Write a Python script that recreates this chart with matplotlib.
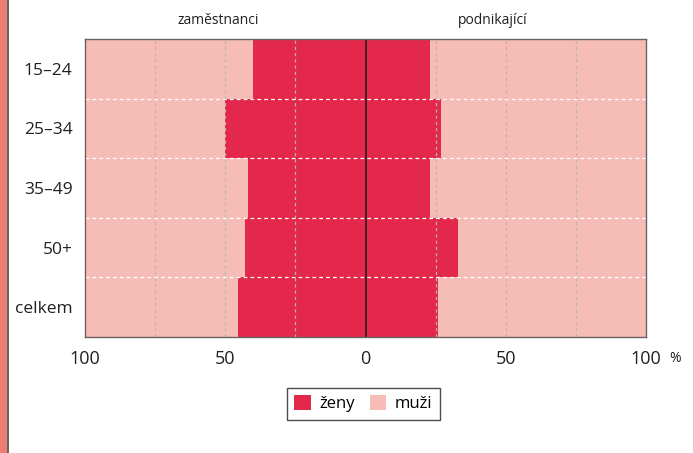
import matplotlib
matplotlib.use("Agg")
import matplotlib.pyplot as plt
from matplotlib.patches import Rectangle, Patch
from matplotlib.lines import Line2D

plt.rcParams['font.family'] = ['Open Sans', 'DejaVu Sans']

# data: share of women (%) in each group
groups = ["15–24", "25–34", "35–49", "50+", "celkem"]
zeny_zam = [40, 50, 42, 43, 45.5]     # zaměstnanci
zeny_pod = [23, 27, 23, 33, 26]       # podnikající
muzi_zam = [100 - v for v in zeny_zam]
muzi_pod = [100 - v for v in zeny_pod]

RED = "#E3284B"
PINK = "#F6BDB6"

fig = plt.figure(figsize=(6.93, 4.53), dpi=100)
ax = fig.add_axes([0.1227, 0.256, 0.8095, 0.658])

y = list(range(len(groups)))
# left half (zaměstnanci) - negative direction
ax.barh(y, [-v for v in zeny_zam], height=1.0, color=RED, zorder=1)
ax.barh(y, [-v for v in muzi_zam], left=[-v for v in zeny_zam], height=1.0, color=PINK, zorder=1)
# right half (podnikající)
ax.barh(y, zeny_pod, height=1.0, color=RED, zorder=1)
ax.barh(y, muzi_pod, left=zeny_pod, height=1.0, color=PINK, zorder=1)

ax.set_xlim(-100, 100)
ax.set_ylim(len(groups) - 0.5, -0.5)

# grid
for gx in [-75, -50, -25, 25, 50, 75]:
    ax.axvline(gx, color="#bdb3b3", lw=0.9, ls=(0, (2.5, 2.5)), zorder=2)
for gy in [0.5, 1.5, 2.5, 3.5]:
    ax.axhline(gy, color="white", lw=0.9, ls=(0, (3, 2.5)), zorder=3)
ax.axvline(0, color="#2a2022", lw=1.2, zorder=4)

for s in ax.spines.values():
    s.set_color("#6b6262")
    s.set_linewidth(1.0)
    s.set_zorder(5)

ax.set_xticks([-100, -50, 0, 50, 100])
ax.set_xticklabels(["100", "50", "0", "50", "100"])
ax.set_yticks(y)
ax.set_yticklabels(groups)
ax.tick_params(axis="x", length=0, pad=9, labelsize=13, labelcolor="#231f20")
ax.tick_params(axis="y", length=0, pad=9, labelsize=12.5, labelcolor="#231f20")
ax.text(1.041, -0.072, "%", transform=ax.transAxes, fontsize=10, color="#231f20",
        ha="left", va="center")

fig.text(218 / 693, 1 - 20 / 453, "zaměstnanci", ha="center", va="center", fontsize=10, color="#231f20")
fig.text(493 / 693, 1 - 20 / 453, "podnikající", ha="center", va="center", fontsize=10, color="#231f20")

handles = [Patch(facecolor=RED, edgecolor="none", label="ženy"),
           Patch(facecolor=PINK, edgecolor="none", label="muži")]
leg = fig.legend(handles=handles, loc="center", bbox_to_anchor=(0.524, 0.109), ncol=2,
                 fontsize=12, frameon=True, fancybox=False, handlelength=1.0, handleheight=1.0,
                 handletextpad=0.5, columnspacing=0.9, borderpad=0.45, borderaxespad=0)
leg.get_frame().set_edgecolor("#231f20")
leg.get_frame().set_linewidth(1.0)

# left decorative strip
fig.patches.append(Rectangle((0, 0), 7 / 693, 1, transform=fig.transFigure,
                             facecolor="#EE7E74", edgecolor="none"))
fig.lines.append(Line2D([7.8 / 693, 7.8 / 693], [0, 1], transform=fig.transFigure,
                        color="#4a4444", lw=1.2))

fig.savefig("out.png", dpi=100)
